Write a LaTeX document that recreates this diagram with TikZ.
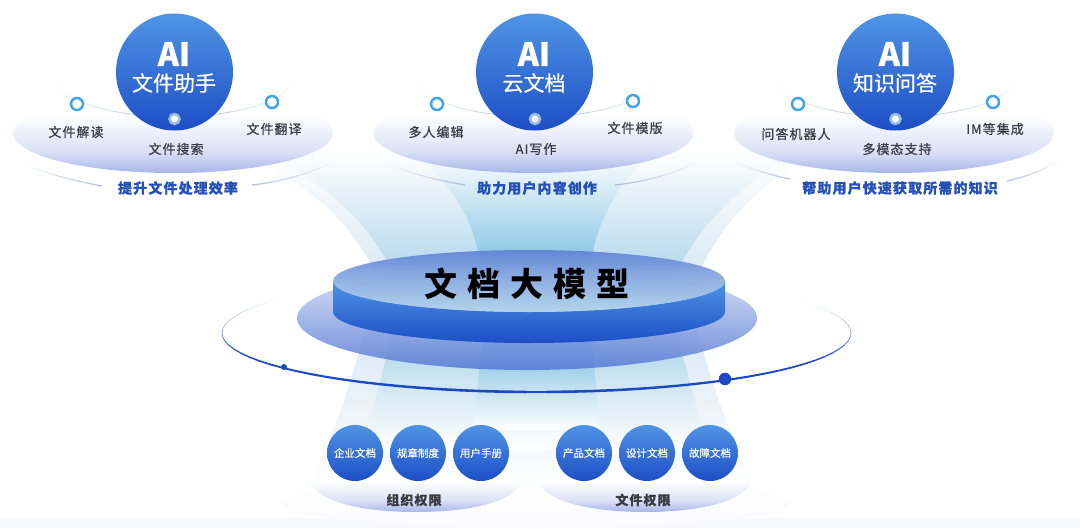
\documentclass[tikz,border=0pt]{standalone}
\usepackage{fontspec}
\setmainfont[LetterSpace=8,FakeBold=0.6]{Noto Sans CJK SC}
\newfontfamily\titlefont[LetterSpace=30]{Noto Sans CJK SC}
\newfontfamily\plainfont[FakeBold=0.6]{Noto Sans CJK SC}
\usetikzlibrary{fadings}
\definecolor{ballTop}{HTML}{5094E4}
\definecolor{ballLow}{HTML}{1D4EC6}
\definecolor{domeLow}{HTML}{A7B6EA}
\definecolor{domeMid}{HTML}{DCE2F6}
\definecolor{tagBlue}{HTML}{2450B8}
\definecolor{labelGrey}{HTML}{3A3D45}
\definecolor{flankGrey}{HTML}{AEBBDD}
\definecolor{orbitGrey}{HTML}{AEBBD0}
\definecolor{ringBlue}{HTML}{1B49C2}
\definecolor{beamOuter}{HTML}{DCEAF5}
\definecolor{beamSecond}{HTML}{B5D8EC}
\definecolor{beamCentre}{HTML}{7FC0E2}
\definecolor{floorGrey}{HTML}{F8F9FA}
\pgfdeclareverticalshading{dome}{100bp}{color(0bp)=(domeLow); color(25bp)=(domeLow); color(39bp)=(domeMid); color(62bp)=(white); color(100bp)=(white)}
\pgfdeclareverticalshading{fallouter}{100bp}{color(0bp)=(white); color(25bp)=(white); color(65bp)=(beamOuter); color(100bp)=(beamOuter)}
\pgfdeclareverticalshading{fallsecond}{100bp}{color(0bp)=(white); color(25bp)=(white); color(60bp)=(beamSecond); color(100bp)=(beamSecond)}
\pgfdeclareverticalshading{fallcentre}{100bp}{color(0bp)=(white); color(25bp)=(white); color(58bp)=(beamCentre); color(100bp)=(beamCentre)}
\tikzfading[name=fade ends, left color=transparent!100, right color=transparent!100, middle color=transparent!0]
\begin{document}
\begin{tikzpicture}[x=1pt, y=-1pt]
      % Define block styles
      \tikzstyle{ball} = [circle, shade, top color=ballTop, bottom color=ballLow, text=white, align=center, inner sep=0pt]
      \tikzstyle{bigball} = [ball, minimum size=117pt]
      \tikzstyle{docball} = [ball, minimum size=56pt, font=\plainfont\fontsize{10.5}{12}\selectfont, node distance=63pt]
      \tikzstyle{aitext} = [text=white, font=\plainfont\bfseries\fontsize{32}{36}\selectfont]
      \tikzstyle{subtext} = [text=white, font=\plainfont\fontsize{21}{24}\selectfont]
      \tikzstyle{lens} = [shading=dome]
      \tikzstyle{ringdot} = [circle, draw=ballTop!85!cyan, line width=2.5pt, fill=white, minimum size=12pt, inner sep=0pt]
      \tikzstyle{coredot} = [circle, draw=cyan!20!ballTop!55!white, line width=2.5pt, fill=white, minimum size=10pt, inner sep=0pt]
      \tikzstyle{label} = [text=labelGrey, font=\fontsize{13}{15}\selectfont]
      \tikzstyle{tagline} = [text=tagBlue, font=\bfseries\fontsize{14}{16}\selectfont]
      \tikzstyle{flank} = [draw=flankGrey, line width=1.2pt]
      \tikzstyle{orbit} = [draw=orbitGrey, line width=1pt, path fading=fade ends]

      \useasboundingbox (0,0) rectangle (1080,528);

      % Floor
      \fill [floorGrey] (0,518) rectangle (1080,528);
      \shade [top color=white, bottom color=blue!2!white] (536,504) ellipse [x radius=254pt, y radius=24pt];

      % Upper beams
      \shade [top color=white, bottom color=beamOuter] (240,152) .. controls (320,190) and (350,225) .. (374,270) -- (700,270) .. controls (722,225) and (750,192) .. (815,152) -- cycle;
      \shade [top color=white, bottom color=beamSecond] (265,152) .. controls (335,190) and (368,225) .. (392,270) -- (678,270) .. controls (700,225) and (735,190) .. (795,152) -- cycle;
      \shade [top color=white, bottom color=beamCentre] (415,152) .. controls (455,190) and (475,220) .. (481,270) -- (590,270) .. controls (596,220) and (615,190) .. (650,152) -- cycle;

      % Lower beams
      \path [shading=fallouter] (372,300) .. controls (350,395) and (330,440) .. (308,490) -- (752,490) .. controls (735,440) and (712,395) .. (690,300) -- cycle;
      \path [shading=fallsecond] (398,300) .. controls (385,370) and (375,400) .. (360,450) -- (708,450) .. controls (695,400) and (685,370) .. (670,300) -- cycle;
      \path [shading=fallcentre] (486,300) .. controls (480,370) and (476,400) .. (472,430) -- (600,430) .. controls (598,400) and (594,370) .. (588,300) -- cycle;

      % Disk
      \shade [opacity=.88, top color=domeMid, bottom color=ballLow!75!white] (527,318) ellipse [x radius=230pt, y radius=52pt];
      \shade [top color=ballTop, bottom color=ballLow] (333,281) -- (333,312) .. controls (333,329) and (421,343) .. (529,343) .. controls (637,343) and (725,329) .. (725,312) -- (725,281) .. controls (725,298) and (637,312) .. (529,312) .. controls (421,312) and (333,298) .. (333,281) -- cycle;
      \shade [opacity=.93, top color=ballLow!70!white, middle color=domeLow, bottom color=beamSecond] (529,281) ellipse [x radius=196pt, y radius=31pt];
      \node [font=\titlefont\bfseries\fontsize{33}{36}\selectfont, text=black] (model) at (527,284) {文档大模型};

      % Ring round the disk
      \foreach \t in {-32,-28,...,212} {
        \pgfmathsetmacro{\p}{100*min(1,max(0,(sin(\t)+0.55)/1.0))}
        \pgfmathsetmacro{\w}{0.6+2*max(0,sin(\t))}
        \draw [ringBlue!\p!white, line width=\w pt, line cap=round] ({536.5+314.5*cos(\t)},{333+59*sin(\t)}) -- ({536.5+314.5*cos(\t+4)},{333+59*sin(\t+4)});
      }
      \node [circle, fill=ringBlue, minimum size=6pt, inner sep=0pt] (smalldot) at (284,367) {};
      \node [circle, fill=ringBlue, minimum size=12.5pt, inner sep=0pt] (bigdot) at (725,379) {};

      % First module
      \path [lens] (173,133) ellipse [x radius=160pt, y radius=40pt];
      \draw [orbit] (52,77) .. controls (70,130) and (278,130) .. (296,77);
      \node [bigball] (fileball) at (174.5,72) {};
      \node [aitext] (fileai) at (174,54) {AI};
      \node [subtext] (filename) at (174,83) {文件助手};
      \node [ringdot] (read) at (77,104) {};
      \node [ringdot] (trans) at (272,102) {};
      \node [coredot] (search) at (174.5,119) {};
      \node [label] (readtext) at (76,132) {文件解读};
      \node [label] (searchtext) at (176,149) {文件搜索};
      \node [label] (transtext) at (274,129) {文件翻译};
      \node [tagline] (filetag) at (178,188) {提升文件处理效率};
      \draw [flank, path fading=west] (102,186) .. controls (70,180) and (45,173) .. (20,163);
      \draw [flank, path fading=east] (252,185) .. controls (285,181) and (310,173) .. (333,162);

      % Second module
      \path [lens] (533.5,133) ellipse [x radius=160pt, y radius=40pt];
      \draw [orbit] (413,77) .. controls (431,130) and (639,130) .. (657,77);
      \node [bigball] (cloudball) at (534.5,72) {};
      \node [aitext] (cloudai) at (534,54) {AI};
      \node [subtext] (cloudname) at (534,83) {云文档};
      \node [ringdot] (edit) at (437,104) {};
      \node [ringdot] (tmpl) at (633,101) {};
      \node [coredot] (write) at (535,119) {};
      \node [label] (edittext) at (436,132) {多人编辑};
      \node [label] (writetext) at (536,149) {AI写作};
      \node [label] (tmpltext) at (635,128) {文件模版};
      \node [tagline] (cloudtag) at (537,188) {助力用户内容创作};
      \draw [flank, path fading=west] (465,185) .. controls (435,180) and (410,173) .. (390,165);
      \draw [flank, path fading=east] (615,185) .. controls (650,181) and (675,173) .. (697,162);

      % Third module
      \path [lens] (894,133) ellipse [x radius=160pt, y radius=40pt];
      \draw [orbit] (774,77) .. controls (792,130) and (1000,130) .. (1018,77);
      \node [bigball] (askball) at (895.5,72) {};
      \node [aitext] (askai) at (895,54) {AI};
      \node [subtext] (askname) at (895,83) {知识问答};
      \node [ringdot] (bot) at (798,104) {};
      \node [ringdot] (im) at (993,102) {};
      \node [coredot] (multi) at (895.5,119) {};
      \node [label] (bottext) at (796,134) {问答机器人};
      \node [label] (multitext) at (897,149) {多模态支持};
      \node [label] (imtext) at (995,129) {IM等集成};
      \node [tagline] (asktag) at (900,188) {帮助用户快速获取所需的知识};
      \draw [flank, path fading=west] (790,179) .. controls (770,175) and (755,170) .. (737,163);
      \draw [flank, path fading=east] (1007,181) .. controls (1025,177) and (1045,170) .. (1060,160);

      % Lower left group
      \path [lens] (310,482) .. controls (320,503) and (365,512) .. (416,512) .. controls (467,512) and (512,503) .. (522,482) .. controls (480,470) and (352,470) .. cycle;
      \node [docball] (company) at (355,453) {企业文档};
      \node [docball, right of=company] (rules) {规章制度};
      \node [docball, right of=rules] (manual) {用户手册};
      \node [label, font=\bfseries\fontsize{13}{15}\selectfont] (orgperm) at (414,500) {组织权限};

      % Lower right group
      \path [lens] (538,482) .. controls (548,503) and (595,512) .. (645,512) .. controls (695,512) and (742,503) .. (752,482) .. controls (710,470) and (580,470) .. cycle;
      \node [docball] (product) at (584,453) {产品文档};
      \node [docball, right of=product] (design) {设计文档};
      \node [docball, right of=design] (fault) {故障文档};
      \node [label, font=\bfseries\fontsize{13}{15}\selectfont] (fileperm) at (643,500) {文件权限};
\end{tikzpicture}
\end{document}
